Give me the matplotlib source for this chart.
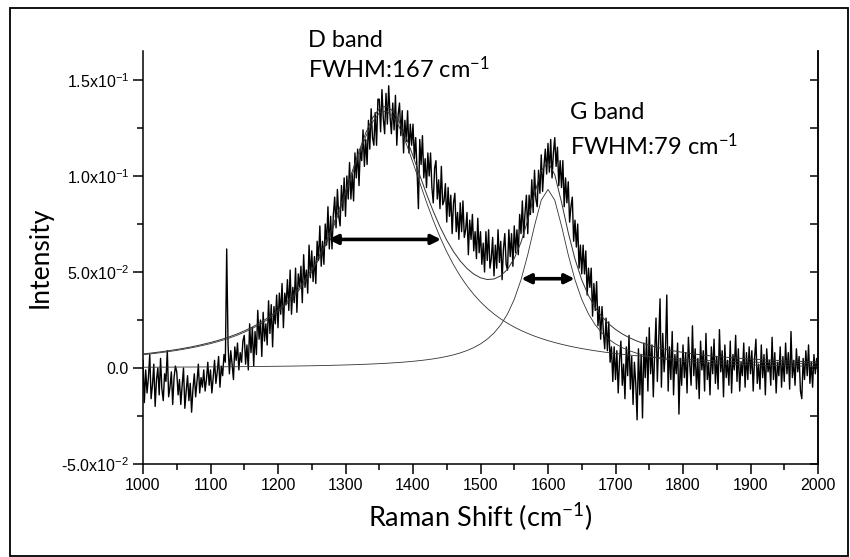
import matplotlib
matplotlib.use("Agg")
import matplotlib.pyplot as plt
import numpy as np
from matplotlib.patches import Rectangle
from matplotlib.ticker import FixedLocator, MultipleLocator

# ---------------------------------------------------------------------------
# data
# ---------------------------------------------------------------------------

# measured spectrum, every 2 cm-1 from 1000 to 2000, intensity in 1e-3 units
shift_step = 2
intensity_milli = [
    # 1000 - 1098
    4, -18, -1, -13, -5, 7, -16, -9, 2, -20, -6, 0, -14, 5, -11, -17, -3, -7, 9, -15, -10, -2, -19, -5, 1,
    -2, -14, -6, -19, -9, 0, -21, -12, -4, -17, -8, -23, -11, -3, -15, -7, 2, -13, -5, -10, -1, -12, -6, 3, -9,
    # 1100 - 1198
    -1, -13, -5, 4, -8, -2, 6, -10, 1, -4, 7, 3, 62, 12, -3, 9, 2, -6, 11, 4, 13, -1, 8, 3, 14,
    17, 2, 12, -1, 23, 8, 21, 1, 19, 7, 30, 15, 25, 6, 29, 14, 23, 12, 35, 18, 33, 11, 32, 23, 38,
    # 1200 - 1298
    21, 39, 28, 44, 21, 39, 33, 46, 30, 51, 28, 42, 34, 52, 29, 49, 42, 53, 34, 59, 42, 51, 39, 64, 47,
    61, 45, 58, 44, 66, 56, 74, 53, 66, 54, 75, 64, 84, 62, 79, 62, 80, 89, 73, 93, 79, 74, 95, 82, 99,
    # 1300 - 1398
    79, 100, 88, 107, 88, 101, 87, 112, 99, 114, 95, 114, 108, 124, 105, 119, 106, 129, 114, 135, 120, 116, 133, 116, 140,
    140, 123, 145, 130, 122, 143, 127, 147, 131, 122, 138, 124, 142, 116, 132, 138, 121, 134, 112, 129, 118, 134, 112, 127, 116,
    # 1400 - 1498
    127, 109, 120, 103, 83, 119, 106, 121, 99, 109, 94, 112, 100, 112, 94, 86, 104, 108, 88, 98, 83, 105, 85, 87, 96,
    76, 94, 79, 90, 70, 86, 91, 71, 81, 67, 86, 71, 87, 68, 72, 81, 59, 77, 67, 80, 61, 71, 57, 78, 60,
    # 1500 - 1598
    71, 54, 65, 50, 71, 56, 72, 52, 57, 68, 48, 64, 52, 72, 55, 66, 46, 62, 70, 54, 51, 72, 58, 70, 53,
    74, 60, 72, 59, 80, 70, 87, 68, 81, 90, 70, 90, 80, 98, 81, 103, 88, 84, 103, 91, 111, 92, 105, 114, 101,
    # 1600 - 1698
    117, 102, 119, 99, 112, 120, 105, 115, 95, 108, 94, 108, 84, 99, 86, 97, 76, 84, 89, 66, 77, 63, 75, 52, 64,
    49, 64, 49, 61, 38, 52, 42, 52, 27, 44, 30, 45, 22, 32, 15, 32, 19, 10, 26, 9, 24, 3, 11, -7, 11,
    # 1700 - 1798
    -6, 9, -13, 4, 14, -9, 2, -16, 11, -4, 17, -11, 6, -19, 3, -8, -27, 10, -14, 7, -26, 13, -5, 16, -12,
    21, -3, 12, -15, 8, 26, -7, 14, 36, -10, 18, -2, 9, 38, -12, 11, -6, 19, -14, 7, -3, 13, -24, 5, -9,
    # 1800 - 1898
    12, -5, 8, -13, 16, 2, -9, 22, -4, 10, -11, 5, -16, 14, -1, 9, -12, 18, -6, 3, -14, 11, -3, 15, -8,
    6, -11, 20, -2, 9, -15, 12, -5, 4, -9, 14, -13, 7, -1, 17, -7, 10, -12, 3, -4, 13, -10, 8, -6, 11,
    # 1900 - 2000
    -3, 9, -12, 5, 15, -8, 2, -11, 12, -5, 7, -14, 10, -2, 4, -9, 16, -6, 8, -13, 3, -4, 11, -10, 6,
    -7, 13, -3, 8, -11, 19, -5, 4, -9, 10, -2, 6, -12, -16, 5, -6, 9, -4, 12, -8, 3, -10, 7, -3, 5,
    -2,
]

# Lorentzian fit components, every 10 cm-1 from 1000 to 2000
fit_step = 10
d_fit = [
    0.00691, 0.00729, 0.00771, 0.00816, 0.00865, 0.00917, 0.00975, 0.01039, 0.01109, 0.01186,
    0.01270, 0.01364, 0.01469, 0.01585, 0.01714, 0.01860, 0.02024, 0.02208, 0.02417, 0.02655,
    0.02926, 0.03236, 0.03591, 0.04000, 0.04471, 0.05013, 0.05635, 0.06348, 0.07156, 0.08057,
    0.09039, 0.10071, 0.11101, 0.12046, 0.12805, 0.13278, 0.13392, 0.13129, 0.12530, 0.11684,
    0.10694, 0.09655, 0.08638, 0.07686, 0.06821, 0.06052, 0.05377, 0.04787, 0.04275, 0.03830,
    0.03443, 0.03106, 0.02813, 0.02556, 0.02330, 0.02131, 0.01956, 0.01800, 0.01661, 0.01537,
    0.01426, 0.01326, 0.01236, 0.01154, 0.01080, 0.01013, 0.00952, 0.00896, 0.00844, 0.00797,
    0.00754, 0.00714, 0.00677, 0.00643, 0.00611, 0.00582, 0.00554, 0.00529, 0.00505, 0.00483,
    0.00462, 0.00442, 0.00424, 0.00407, 0.00390, 0.00375, 0.00361, 0.00347, 0.00334, 0.00322,
    0.00311, 0.00300, 0.00289, 0.00280, 0.00270, 0.00261, 0.00253, 0.00245, 0.00237, 0.00230,
    0.00223,
]
g_fit = [
    0.00040, 0.00042, 0.00043, 0.00045, 0.00046, 0.00048, 0.00050, 0.00051, 0.00053, 0.00056,
    0.00058, 0.00060, 0.00063, 0.00065, 0.00068, 0.00071, 0.00074, 0.00078, 0.00082, 0.00086,
    0.00090, 0.00095, 0.00099, 0.00105, 0.00111, 0.00117, 0.00124, 0.00131, 0.00140, 0.00149,
    0.00159, 0.00169, 0.00182, 0.00195, 0.00210, 0.00227, 0.00245, 0.00267, 0.00290, 0.00318,
    0.00349, 0.00385, 0.00427, 0.00476, 0.00534, 0.00603, 0.00686, 0.00786, 0.00909, 0.01062,
    0.01255, 0.01502, 0.01823, 0.02246, 0.02812, 0.03574, 0.04591, 0.05898, 0.07403, 0.08741,
    0.09300, 0.08741, 0.07403, 0.05898, 0.04591, 0.03574, 0.02812, 0.02246, 0.01823, 0.01502,
    0.01255, 0.01062, 0.00909, 0.00786, 0.00686, 0.00603, 0.00534, 0.00476, 0.00427, 0.00385,
    0.00349, 0.00318, 0.00290, 0.00267, 0.00245, 0.00227, 0.00210, 0.00195, 0.00182, 0.00169,
    0.00159, 0.00149, 0.00140, 0.00131, 0.00124, 0.00117, 0.00111, 0.00105, 0.00099, 0.00095,
    0.00090,
]

band_names = ["D band", "G band"]
band_fwhm = [167, 79]
band_centers = [1358, 1600]

y_ticks = [-0.05, 0.0, 0.05, 0.10, 0.15]
y_tick_labels = ["-5.0x10$\\mathregular{^{-2}}$", "0.0", "5.0x10$\\mathregular{^{-2}}$",
                 "1.0x10$\\mathregular{^{-1}}$", "1.5x10$\\mathregular{^{-1}}$"]

# ---------------------------------------------------------------------------

plt.rcParams["font.family"] = ["Liberation Sans", "DejaVu Sans"]
label_font = ["Lato", "DejaVu Sans"]

shift = 1000 + shift_step * np.arange(len(intensity_milli))
intensity = np.asarray(intensity_milli, dtype=float) / 1000.0
fit_x = 1000 + fit_step * np.arange(len(d_fit))
d_arr = np.asarray(d_fit)
g_arr = np.asarray(g_fit)
fit_sum = d_arr + g_arr

fig = plt.figure(figsize=(8.5, 5.57), dpi=100)
ax = fig.add_axes([143 / 850, 1 - 464 / 557, 675 / 850, 413 / 557])

ax.plot(shift, intensity, color="black", lw=1.0, zorder=2)
ax.plot(fit_x, fit_sum, color="#333333", lw=0.7, zorder=3)
ax.plot(fit_x, d_arr, color="#333333", lw=0.6, zorder=3)
ax.plot(fit_x, g_arr, color="#333333", lw=0.6, zorder=3)

# FWHM arrows at half height of each component
for comp, c, w in zip([d_arr, g_arr], band_centers, band_fwhm):
    half = comp.max() / 2
    ax.annotate("", xy=(c - w / 2, half), xytext=(c + w / 2, half),
                arrowprops=dict(arrowstyle="<|-|>", color="black", lw=2.6,
                                mutation_scale=14, shrinkA=0, shrinkB=0),
                zorder=5)

ax.set_xlim(1000, 2000)
ax.set_ylim(-0.05, 0.1651)
ax.xaxis.set_major_locator(MultipleLocator(100))
ax.xaxis.set_minor_locator(MultipleLocator(50))
ax.yaxis.set_major_locator(FixedLocator(y_ticks))
ax.yaxis.set_minor_locator(MultipleLocator(0.025))
ax.set_yticklabels(y_tick_labels)

for side in ["left", "bottom", "right"]:
    ax.spines[side].set_linewidth(1.1)
ax.spines["top"].set_visible(False)
ax.tick_params(which="major", direction="out", length=7, width=1.1,
               labelsize=11.5, pad=3, right=False, top=False)
ax.tick_params(which="minor", direction="out", length=4, width=1.1,
               right=False, top=False)

# right side ticks point inwards, without labels
ax_r = ax.twinx()
ax_r.set_ylim(ax.get_ylim())
ax_r.yaxis.set_major_locator(FixedLocator(y_ticks))
ax_r.yaxis.set_minor_locator(MultipleLocator(0.025))
ax_r.tick_params(which="both", direction="in", length=6, width=1.1, labelright=False)
for side in ["top", "left", "bottom"]:
    ax_r.spines[side].set_visible(False)
ax_r.spines["right"].set_linewidth(1.1)

ax.set_xlabel("Raman Shift (cm$\\mathregular{^{-1}}$)", fontsize=19.5,
              family=label_font, labelpad=6)
ax.set_ylabel("Intensity", fontsize=19, family=label_font, labelpad=6)

# band annotations
text_pos = [(0.245, 1.010, 0.935), (0.633, 0.835, 0.748)]
for name, w, (tx, ty1, ty2) in zip(band_names, band_fwhm, text_pos):
    ax.text(tx, ty1, name, transform=ax.transAxes, fontsize=17,
            family=label_font, va="baseline", clip_on=False)
    ax.text(tx, ty2, f"FWHM:{w} cm$\\mathregular{{^{{-1}}}}$", transform=ax.transAxes,
            fontsize=17, family=label_font, va="baseline", clip_on=False)

# outer frame
fig.patches.append(Rectangle((10 / 850, 1 / 557), 838 / 850, 548 / 557,
                             transform=fig.transFigure, fill=False,
                             edgecolor="black", lw=1.3))

fig.savefig("out.png", dpi=100)
